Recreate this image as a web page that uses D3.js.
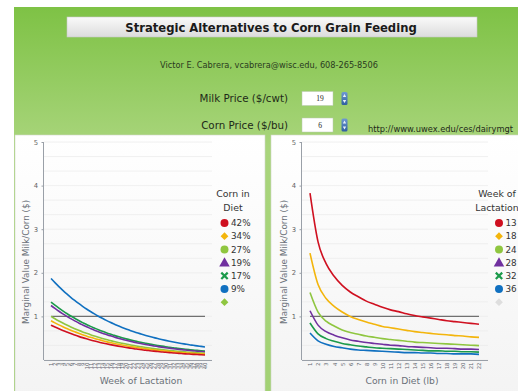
<!DOCTYPE html>
<html><head><meta charset="utf-8">
<script src="https://cdn.jsdelivr.net/npm/d3@7"></script>
<style>
html,body{margin:0;padding:0;background:#fff;overflow:hidden;}
svg{display:block;font-family:"DejaVu Sans",Verdana,sans-serif;}
</style></head><body>
<svg id="c" width="518" height="391"></svg>
<script>
// ---- Marginal value of milk over corn, by week of lactation (left) ----
const weeks = [1,2,3,4,5,6,7,8,9,10,11,12,13,14,15,16,17,18,19,20,
               21,22,23,24,25,26,27,28,29,30,31,32,33,34,35,36,37,38,39,40];
const cornShares = ["42%","34%","27%","19%","17%","9%",""];
const share42 = [0.800,0.756,0.715,0.676,0.640,0.605,0.573,0.542,0.513,0.486,0.460,0.436,0.413,0.392,0.372,0.353,0.335,0.318,0.302,0.287,
                 0.273,0.259,0.247,0.235,0.223,0.213,0.203,0.194,0.185,0.176,0.169,0.161,0.154,0.148,0.141,0.136,0.130,0.125,0.120,0.115];
const share34 = [0.900,0.851,0.805,0.762,0.721,0.682,0.646,0.612,0.579,0.549,0.520,0.493,0.468,0.444,0.421,0.400,0.380,0.361,0.343,0.326,
                 0.310,0.295,0.281,0.268,0.255,0.243,0.232,0.222,0.212,0.203,0.194,0.186,0.178,0.170,0.164,0.157,0.151,0.145,0.140,0.134];
const share27 = [1.000,0.946,0.895,0.847,0.802,0.759,0.719,0.681,0.645,0.612,0.580,0.550,0.522,0.495,0.470,0.447,0.424,0.403,0.384,0.365,
                 0.348,0.331,0.315,0.301,0.287,0.274,0.262,0.250,0.239,0.229,0.219,0.210,0.201,0.193,0.186,0.178,0.171,0.165,0.159,0.153];
const share19 = [1.250,1.182,1.118,1.058,1.001,0.948,0.897,0.850,0.805,0.762,0.723,0.685,0.650,0.616,0.585,0.555,0.528,0.501,0.476,0.453,
                 0.431,0.410,0.391,0.372,0.355,0.338,0.323,0.309,0.295,0.282,0.270,0.258,0.247,0.237,0.228,0.219,0.210,0.202,0.194,0.187];
const share17 = [1.330,1.258,1.190,1.127,1.066,1.010,0.956,0.906,0.858,0.814,0.771,0.732,0.694,0.659,0.626,0.594,0.565,0.537,0.511,0.486,
                 0.462,0.440,0.420,0.400,0.382,0.364,0.348,0.333,0.318,0.304,0.292,0.279,0.268,0.257,0.247,0.237,0.228,0.220,0.212,0.204];
const share9  = [1.870,1.774,1.683,1.597,1.515,1.438,1.366,1.297,1.232,1.170,1.112,1.057,1.005,0.956,0.909,0.865,0.824,0.784,0.747,0.712,
                 0.679,0.647,0.617,0.589,0.563,0.538,0.514,0.491,0.470,0.450,0.431,0.413,0.396,0.380,0.365,0.350,0.337,0.324,0.312,0.300];

// ---- Marginal value of milk over corn, by pounds of corn in the diet (right) ----
const cornLb = [1,2,3,4,5,6,7,8,9,10,11,12,13,14,15,16,17,18,19,20,21,22];
const lactWeeks = ["13","18","24","28","32","36",""];
const week13 = [3.83,2.71,2.21,1.92,1.71,1.56,1.45,1.35,1.28,1.21,1.15,1.11,1.06,1.02,0.99,0.96,0.93,0.90,0.88,0.86,0.84,0.82];
const week18 = [2.45,1.73,1.41,1.23,1.10,1.00,0.93,0.87,0.82,0.77,0.74,0.71,0.68,0.65,0.63,0.61,0.59,0.58,0.56,0.55,0.53,0.52];
const week24 = [1.55,1.10,0.89,0.78,0.69,0.63,0.59,0.55,0.52,0.49,0.47,0.45,0.43,0.41,0.40,0.39,0.38,0.37,0.36,0.35,0.34,0.33];
const week28 = [1.13,0.80,0.65,0.57,0.51,0.46,0.43,0.40,0.38,0.36,0.34,0.33,0.31,0.30,0.29,0.28,0.27,0.27,0.26,0.25,0.25,0.24];
const week32 = [0.85,0.60,0.49,0.43,0.38,0.35,0.32,0.30,0.28,0.27,0.26,0.25,0.24,0.23,0.22,0.21,0.21,0.20,0.20,0.19,0.19,0.18];
const week36 = [0.62,0.44,0.36,0.31,0.28,0.25,0.23,0.22,0.21,0.20,0.19,0.18,0.17,0.17,0.16,0.16,0.15,0.15,0.14,0.14,0.14,0.13];

const yTicks = [1,2,3,4,5];
const breakEven = 1;
const milkPrice = "19";
const cornPrice = "6";

const seriesColors = ["#cf1020","#f3b50c","#8fc640","#70309f","#1b9a4a","#1070c0"];
const legendMarks = ["circle","diamond","circle","triangle","x","circle","diamond"];

const svg = d3.select("#c");
const defs = svg.append("defs");

// green page band
const gGreen = defs.append("linearGradient").attr("id","green").attr("x1",0).attr("y1",0).attr("x2",0).attr("y2",1);
gGreen.append("stop").attr("offset","0%").attr("stop-color","#7ec245");
gGreen.append("stop").attr("offset","35%").attr("stop-color","#a9d57c");
gGreen.append("stop").attr("offset","100%").attr("stop-color","#a2d174");
const gTitle = defs.append("linearGradient").attr("id","titlebar").attr("x1",0).attr("y1",0).attr("x2",0).attr("y2",1);
gTitle.append("stop").attr("offset","0%").attr("stop-color","#fafafa");
gTitle.append("stop").attr("offset","100%").attr("stop-color","#dcdcdc");
const gPanel = defs.append("linearGradient").attr("id","panel").attr("x1",0).attr("y1",0).attr("x2",0).attr("y2",1);
gPanel.append("stop").attr("offset","0%").attr("stop-color","#ffffff");
gPanel.append("stop").attr("offset","100%").attr("stop-color","#f3f3f3");
const gSpin = defs.append("linearGradient").attr("id","spin").attr("x1",0).attr("y1",0).attr("x2",0).attr("y2",1);
gSpin.append("stop").attr("offset","0%").attr("stop-color","#6f9ad3");
gSpin.append("stop").attr("offset","100%").attr("stop-color","#2f5f9f");

svg.append("rect").attr("x",14).attr("y",7).attr("width",520).attr("height",400).attr("fill","url(#green)");

// title bar
svg.append("rect").attr("x",67).attr("y",17).attr("width",410).attr("height",20)
  .attr("fill","url(#titlebar)").attr("stroke","#c8c8c8").attr("stroke-width",0.6);
svg.append("text").attr("x",271).attr("y",31.8).attr("text-anchor","middle")
  .attr("font-size",11.6).attr("font-weight","bold").attr("fill","#1a1a1a")
  .text("Strategic Alternatives to Corn Grain Feeding");
svg.append("text").attr("x",269).attr("y",67.5).attr("text-anchor","middle")
  .attr("font-size",8.2).attr("fill","#2a3a20")
  .text("Victor E. Cabrera, vcabrera@wisc.edu, 608-265-8506");

// price inputs
function priceInput(label, value, cy) {
  svg.append("text").attr("x",288).attr("y",cy+3.6).attr("text-anchor","end")
    .attr("font-size",10.3).attr("fill","#1e2a18").text(label);
  svg.append("rect").attr("x",302).attr("y",cy-7).attr("width",31).attr("height",14)
    .attr("fill","#ffffff").attr("stroke","#b8c8b0").attr("stroke-width",0.5);
  svg.append("text").attr("x",320).attr("y",cy+2.5).attr("text-anchor","middle")
    .attr("font-family","'Liberation Serif',serif").attr("font-size",7.5).attr("fill","#222").text(value);
  svg.append("rect").attr("x",341.5).attr("y",cy-6.5).attr("width",6).attr("height",13).attr("rx",1.5)
    .attr("fill","url(#spin)");
  svg.append("path").attr("d",`M342.8,${cy-1.5}L344.5,${cy-4.5}L346.2,${cy-1.5}Z M342.8,${cy+1.5}L344.5,${cy+4.5}L346.2,${cy+1.5}Z`)
    .attr("fill","#e8f0fa");
}
priceInput("Milk Price ($/cwt)", milkPrice, 98.5);
priceInput("Corn Price ($/bu)", cornPrice, 125);
svg.append("text").attr("x",368).attr("y",131.5).attr("font-size",8.3).attr("fill","#1e2a18")
  .text("http://www.uwex.edu/ces/dairymgt");

// chart panels
svg.append("rect").attr("x",15).attr("y",135).attr("width",250).attr("height",270)
  .attr("fill","url(#panel)").attr("stroke","#cfd8c8").attr("stroke-width",0.6);
svg.append("rect").attr("x",271).attr("y",135).attr("width",260).attr("height",270)
  .attr("fill","url(#panel)").attr("stroke","#cfd8c8").attr("stroke-width",0.6);

const y = d3.scaleLinear().domain([0,5]).range([360,142]);

function markerPath(kind) {
  if (kind === "circle") return d3.symbol(d3.symbolCircle, 50)();
  if (kind === "triangle") return d3.symbol(d3.symbolTriangle, 48)();
  if (kind === "diamond") return d3.symbol(d3.symbolSquare, 30)();
  return null;
}

function drawChart(cfg) {
  const g = svg.append("g");
  const x = d3.scalePoint().domain(cfg.categories).range(cfg.lineRange);

  // light gridlines every third of a unit
  g.selectAll(".grid").data(d3.range(16).map(i => i/3)).join("line")
    .attr("x1",cfg.axisX).attr("x2",cfg.plotRight)
    .attr("y1",d => y(d)).attr("y2",d => y(d))
    .attr("stroke","#ececec").attr("stroke-width",0.8);

  // y axis
  const yAxis = d3.axisLeft(y).tickValues(yTicks).tickSize(2.5).tickPadding(3.5).tickFormat(d3.format("d"));
  const ya = g.append("g").attr("transform",`translate(${cfg.axisX},0)`).call(yAxis);
  ya.select(".domain").attr("d",`M-0.5,${y(5)}V${y(0)}`).attr("stroke","#9aa0a8");
  ya.selectAll(".tick line").attr("stroke","#9aa0a8");
  ya.selectAll(".tick text").attr("font-size",6.8).attr("fill","#666").attr("font-family","'DejaVu Sans',sans-serif");

  // x axis with rotated labels
  const xAxis = d3.axisBottom(x).tickSize(0).tickPadding(2);
  const xa = g.append("g").attr("transform",`translate(0,${y(0)})`).call(xAxis);
  xa.select(".domain").attr("d",`M${cfg.axisX},0.5H${cfg.plotRight}`).attr("stroke","#9aa0a8");
  xa.selectAll(".tick text").attr("font-size",5.4).attr("fill","#5f6670")
    .attr("font-family","'DejaVu Sans',sans-serif")
    .attr("transform","rotate(-90)").attr("text-anchor","end")
    .attr("x",-2.5).attr("y",0).attr("dy","0.35em");

  // break-even reference line
  g.append("line").attr("x1",cfg.lineRange[0]).attr("x2",cfg.lineRange[1])
    .attr("y1",y(breakEven)).attr("y2",y(breakEven))
    .attr("stroke","#707070").attr("stroke-width",1.1);

  // series
  const line = d3.line().x((d,i) => x(cfg.categories[i])).y(d => y(d)).curve(d3.curveMonotoneX);
  cfg.series.slice().reverse().forEach((s, k) => {
    const idx = cfg.series.length - 1 - k;
    g.append("path").attr("d", line(s)).attr("fill","none")
      .attr("stroke",seriesColors[idx]).attr("stroke-width",1.6);
  });

  // axis titles
  g.append("text").attr("transform",`translate(${cfg.yTitleX},${y(2.25)}) rotate(-90)`)
    .attr("text-anchor","middle").attr("font-size",8.8).attr("fill","#6a7078")
    .text("Marginal Value Milk/Corn ($)");
  g.append("text").attr("x",cfg.xTitleX).attr("y",384).attr("text-anchor","middle")
    .attr("font-size",9.2).attr("fill","#6a7078").text(cfg.xTitle);

  // legend
  cfg.legendTitle.forEach((t,i) => {
    g.append("text").attr("x",cfg.legendTitleX).attr("y",196.5 + i*14.5).attr("text-anchor","middle")
      .attr("font-size",9.4).attr("fill","#333").text(t);
  });
  cfg.legendLabels.forEach((lab,i) => {
    const cy = 223 + i*13.2;
    const col = i < seriesColors.length ? seriesColors[i] : cfg.extraColor;
    const m = legendMarks[i];
    if (m === "x") {
      g.append("path").attr("d",`M${cfg.markX-3.2},${cy-3.2}L${cfg.markX+3.2},${cy+3.2}M${cfg.markX-3.2},${cy+3.2}L${cfg.markX+3.2},${cy-3.2}`)
        .attr("stroke",col).attr("stroke-width",2.2);
    } else {
      const rot = m === "diamond" ? " rotate(45)" : "";
      g.append("path").attr("d",markerPath(m))
        .attr("transform",`translate(${cfg.markX},${cy + (m === "triangle" ? 0.8 : 0)})${rot}`)
        .attr("fill",col);
    }
    g.append("text").attr("x",cfg.markX+6.5).attr("y",cy+3.2).attr("font-size",8.8)
      .attr("fill","#333").text(lab);
  });
}

drawChart({
  categories: weeks,
  series: [share42, share34, share27, share19, share17, share9],
  lineRange: [51,205], axisX: 44, plotRight: 212,
  yTitleX: 29, xTitleX: 141, xTitle: "Week of Lactation",
  legendTitle: ["Corn in","Diet"], legendTitleX: 233,
  legendLabels: cornShares, markX: 224.5, extraColor: "#8fc640"
});
drawChart({
  categories: cornLb,
  series: [week13, week18, week24, week28, week32, week36],
  lineRange: [310,479], axisX: 302, plotRight: 488,
  yTitleX: 287, xTitleX: 402, xTitle: "Corn in Diet (lb)",
  legendTitle: ["Week of","Lactation"], legendTitleX: 497,
  legendLabels: lactWeeks, markX: 499, extraColor: "#dedede"
});
</script>
</body></html>
